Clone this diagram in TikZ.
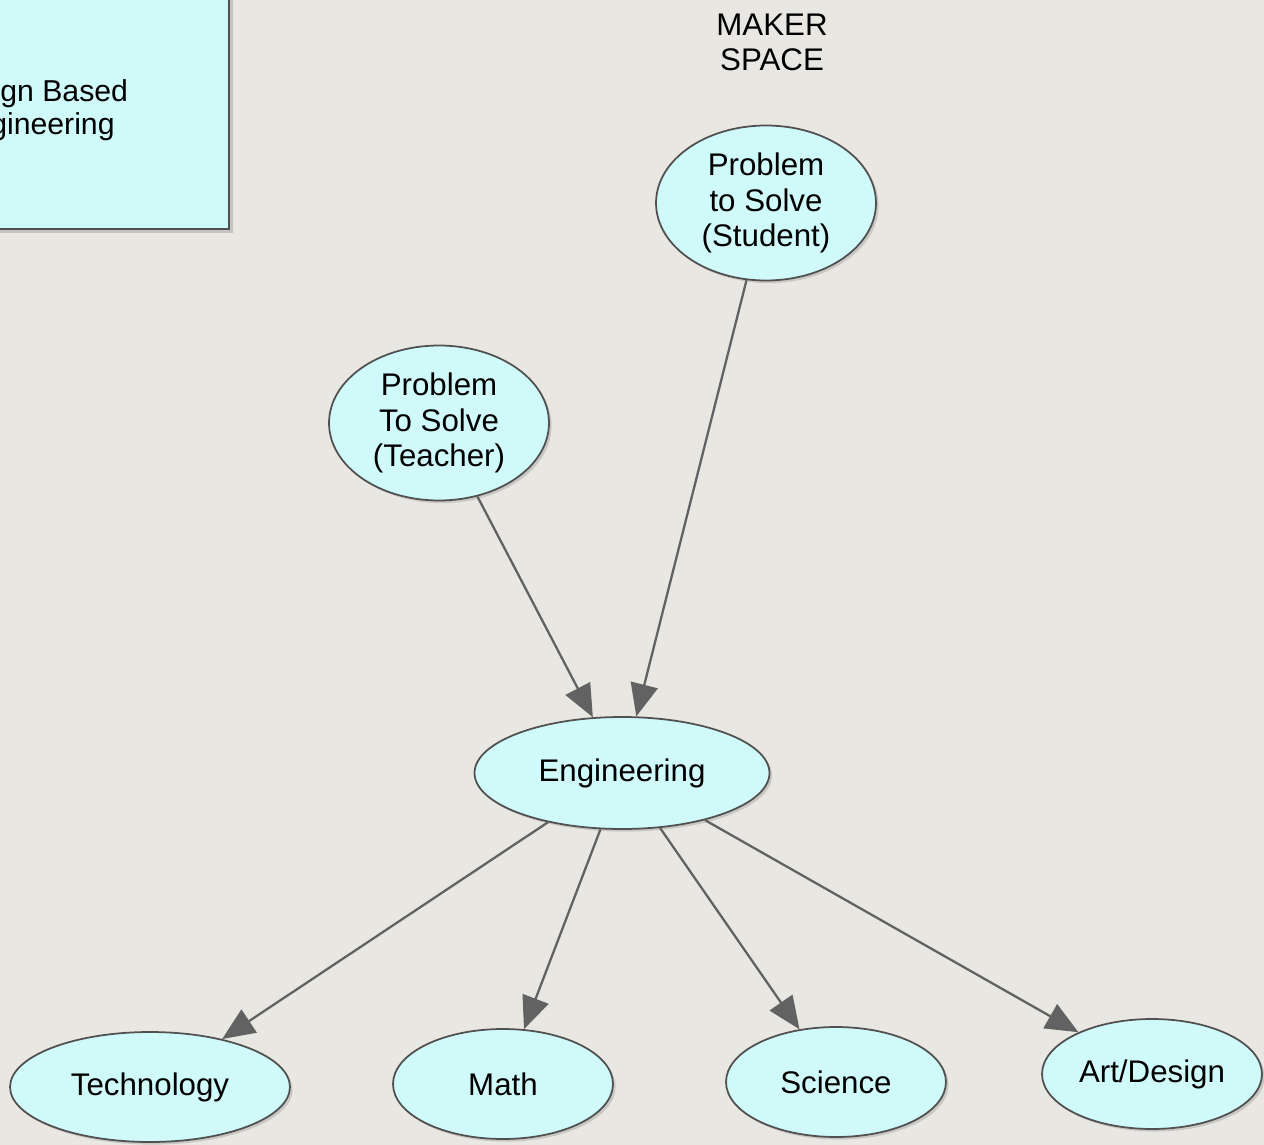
\documentclass[tikz,border=0pt]{standalone}
\usepackage{fontspec}
\setmainfont{Liberation Sans}
\usetikzlibrary{arrows.meta,shadows,shapes.geometric}

\definecolor{paper}{RGB}{233,231,225}
\definecolor{bubble}{RGB}{208,250,250}
\definecolor{rim}{RGB}{80,80,80}
\definecolor{link}{RGB}{98,98,98}

\begin{document}
\begin{tikzpicture}[x=0.02cm,y=-0.02cm]
\tikzstyle{main}=[ellipse, inner sep=0pt, minimum width=44mm, minimum height=31mm, fill=bubble, draw=rim, line width=1pt, align=center, font=\fontsize{17.8}{20}\selectfont, drop shadow={opacity=0.3, shadow xshift=1.5pt, shadow yshift=-1.5pt}]
\tikzstyle{leaf}=[main, minimum height=22mm]
\tikzstyle{connect}=[-{Triangle[length=6.5mm,width=5.5mm]}, draw=link, line width=1.3pt]
\tikzstyle{title}=[align=center, inner sep=0pt, font=\fontsize{17.8}{20}\selectfont]
  \useasboundingbox (0,0) rectangle (1264,1145);
  \fill[paper] (0,0) rectangle (1264,1145);
  \begin{scope}
    \clip (0,0) rectangle (1264,1145);
    \node[rectangle, fill=bubble, draw=rim, line width=1.2pt, minimum width=10cm, minimum height=8cm, anchor=south east, drop shadow={opacity=0.35, shadow xshift=2.5pt, shadow yshift=-2.5pt}] (frame) at (230,230) {};
    \node[title, font=\fontsize{17.2}{18.8}\selectfont] (design) at (34,110) {Design Based\\Engineering};
  \end{scope}
  \node[title] (maker) at (772,42) {MAKER\\SPACE};
  \node[main] (student) at (766,203) {Problem\\to Solve\\(Student)};
  \node[main] (teacher) at (439,423) {Problem\\To Solve\\(Teacher)};
  \node[main, minimum width=59mm, minimum height=22.4mm] (eng) at (622,773) {Engineering};
  \node[leaf, minimum width=56mm] (tech) at (150,1087) {Technology};
  \node[leaf] (math) at (503,1084) {Math};
  \node[leaf] (sci) at (836,1082) {Science};
  \node[leaf] (art) at (1152,1074) {Art/Design};
  \path (teacher) edge [connect] (eng)
        (student) edge [connect] (eng)
        (eng) edge [connect] (tech)
        (eng) edge [connect] (math)
        (eng) edge [connect] (sci)
        (eng) edge [connect] (art);
\end{tikzpicture}
\end{document}
